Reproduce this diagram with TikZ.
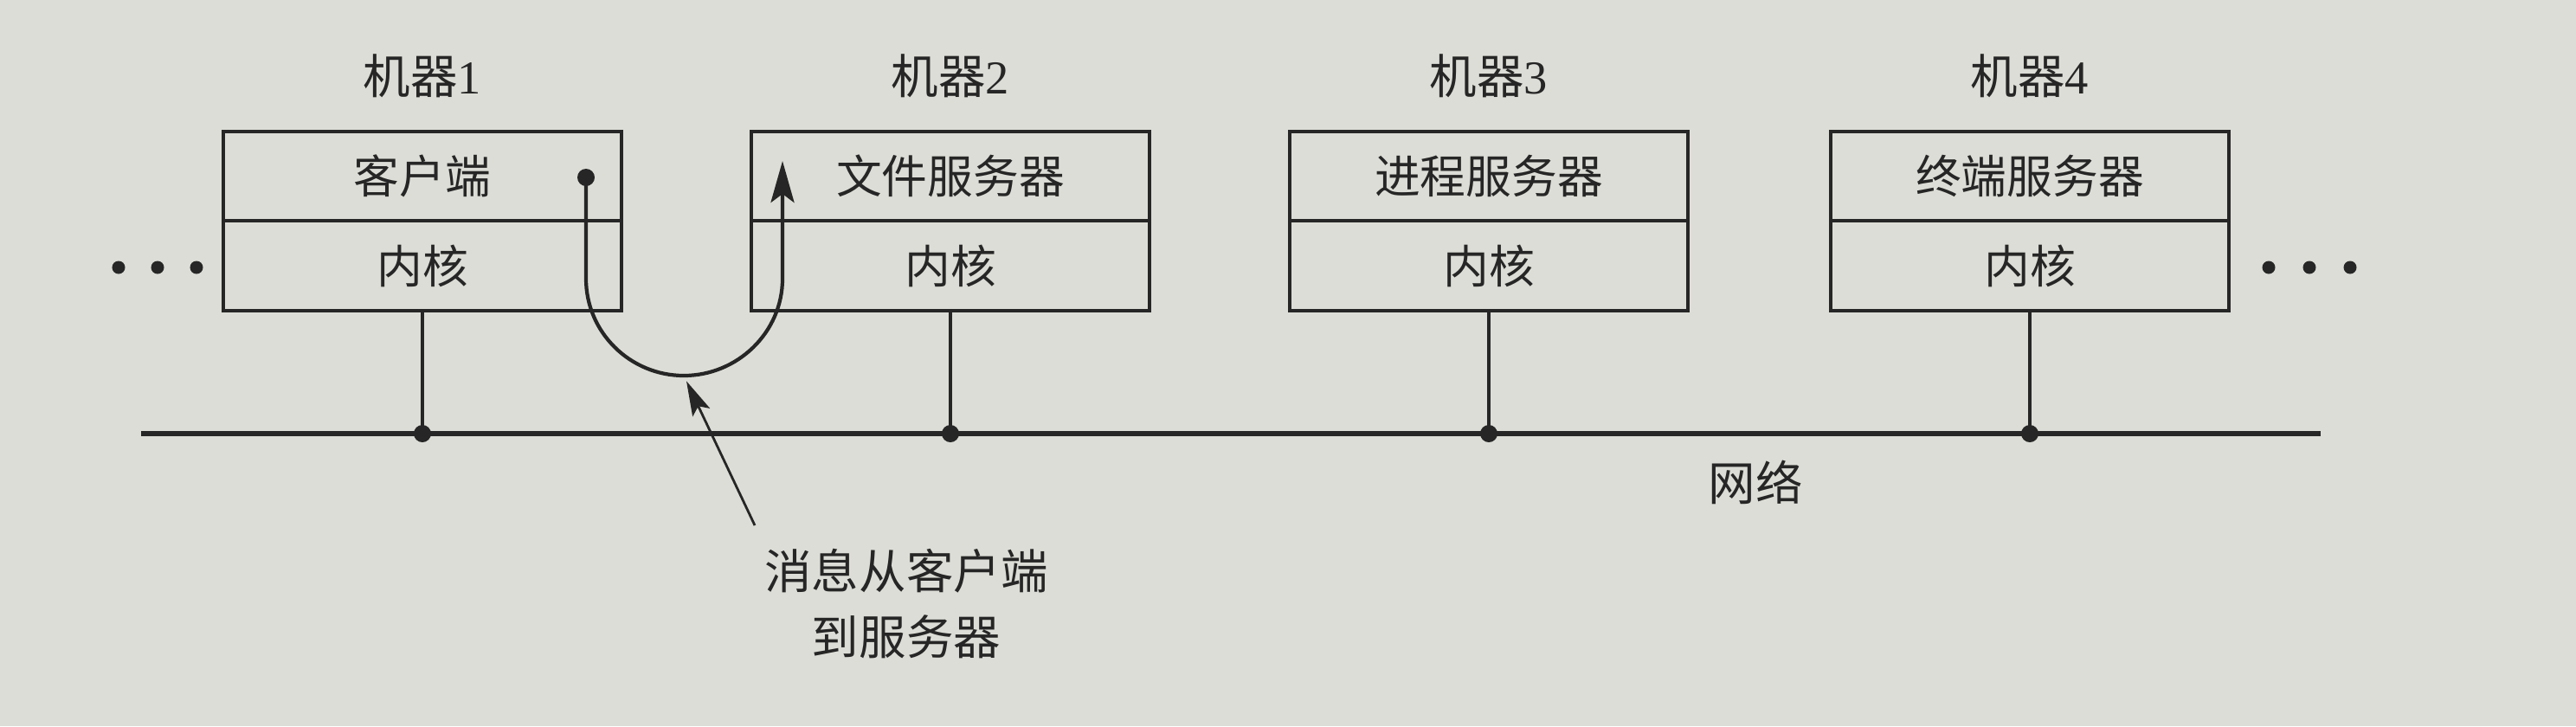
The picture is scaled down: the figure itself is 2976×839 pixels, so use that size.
\documentclass[tikz,border=0pt]{standalone}
\usepackage{fontspec}
\setmainfont{Liberation Serif}
\newfontfamily\cjkfont{Noto Sans CJK SC}
\definecolor{pagegray}{RGB}{221,221,215}
\definecolor{inkgray}{RGB}{38,38,38}
\usetikzlibrary{arrows.meta,positioning}
\tikzset{
  cell/.style={draw=inkgray,line width=1.2pt,minimum width=4.6cm,minimum height=1.035cm,
    inner sep=0pt,outer sep=0pt,text=inkgray,font=\fontsize{15}{18}\selectfont\cjkfont},
  machlabel/.style={text=inkgray,font=\fontsize{15.5}{21.6}\selectfont},
  tap/.style={draw=inkgray,line width=1.1pt},
  junction/.style={fill=inkgray},
}

\begin{document}
\begin{tikzpicture}[x=0.01cm,y=-0.01cm]
  \fill[pagegray] (0,0) rectangle (2976,839);
  \useasboundingbox (0,0) rectangle (2976,839);
  % machines
  \node[cell] (app1) at (488,203.5) {客户端};      \node[cell,below=0pt of app1] (kern1) {内核};
  \node[cell] (app2) at (1098,203.5) {文件服务器}; \node[cell,below=0pt of app2] (kern2) {内核};
  \node[cell] (app3) at (1720,203.5) {进程服务器}; \node[cell,below=0pt of app3] (kern3) {内核};
  \node[cell] (app4) at (2345,203.5) {终端服务器}; \node[cell,below=0pt of app4] (kern4) {内核};
  \node[machlabel,above=0.26cm of app1] (mach1) {{\cjkfont 机器}1};
  \node[machlabel,above=0.26cm of app2] (mach2) {{\cjkfont 机器}2};
  \node[machlabel,above=0.26cm of app3] (mach3) {{\cjkfont 机器}3};
  \node[machlabel,above=0.26cm of app4] (mach4) {{\cjkfont 机器}4};
  \foreach \dx in {137,182,227} \fill[inkgray] (\dx,309) circle[radius=0.075cm];
  \foreach \dx in {2621,2668,2715} \fill[inkgray] (\dx,309) circle[radius=0.075cm];
  % network
  \coordinate (netL) at (163,501); \coordinate (netR) at (2681,501);
  \draw[inkgray,line width=1.5pt] (netL) -- (netR);
  \node[machlabel] (netname) at (2028,557) {\cjkfont 网络};
  \coordinate (j1) at (kern1.south |- netL); \draw[tap] (kern1.south) -- (j1); \fill[junction] (j1) circle[radius=0.1cm];
  \coordinate (j2) at (kern2.south |- netL); \draw[tap] (kern2.south) -- (j2); \fill[junction] (j2) circle[radius=0.1cm];
  \coordinate (j3) at (kern3.south |- netL); \draw[tap] (kern3.south) -- (j3); \fill[junction] (j3) circle[radius=0.1cm];
  \coordinate (j4) at (kern4.south |- netL); \draw[tap] (kern4.south) -- (j4); \fill[junction] (j4) circle[radius=0.1cm];
  % message client -> server
  \coordinate (msgsrc) at (677,205); \coordinate (msgdst) at (904,186);
  \draw[inkgray,line width=1.2pt,-{Stealth[length=0.48cm,width=0.27cm,inset=0.1cm]}] (msgsrc) -- (677,322)
    .. controls (677,384) and (728,434) .. (790,434) coordinate (ubottom)
    .. controls (852,434) and (904,384) .. (904,322) -- (msgdst);
  \fill[inkgray] (msgsrc) circle[radius=0.1cm];
  \node[machlabel,align=center] (msgnote) at (1047,698) {\cjkfont 消息从客户端\\\cjkfont 到服务器};
  \coordinate (notetail) at (872,607);
  \draw[inkgray,line width=0.8pt,shorten >=2pt,-{Stealth[length=0.4cm,width=0.22cm,inset=0.08cm]}] (notetail) -- (ubottom);
\end{tikzpicture}
\end{document}
